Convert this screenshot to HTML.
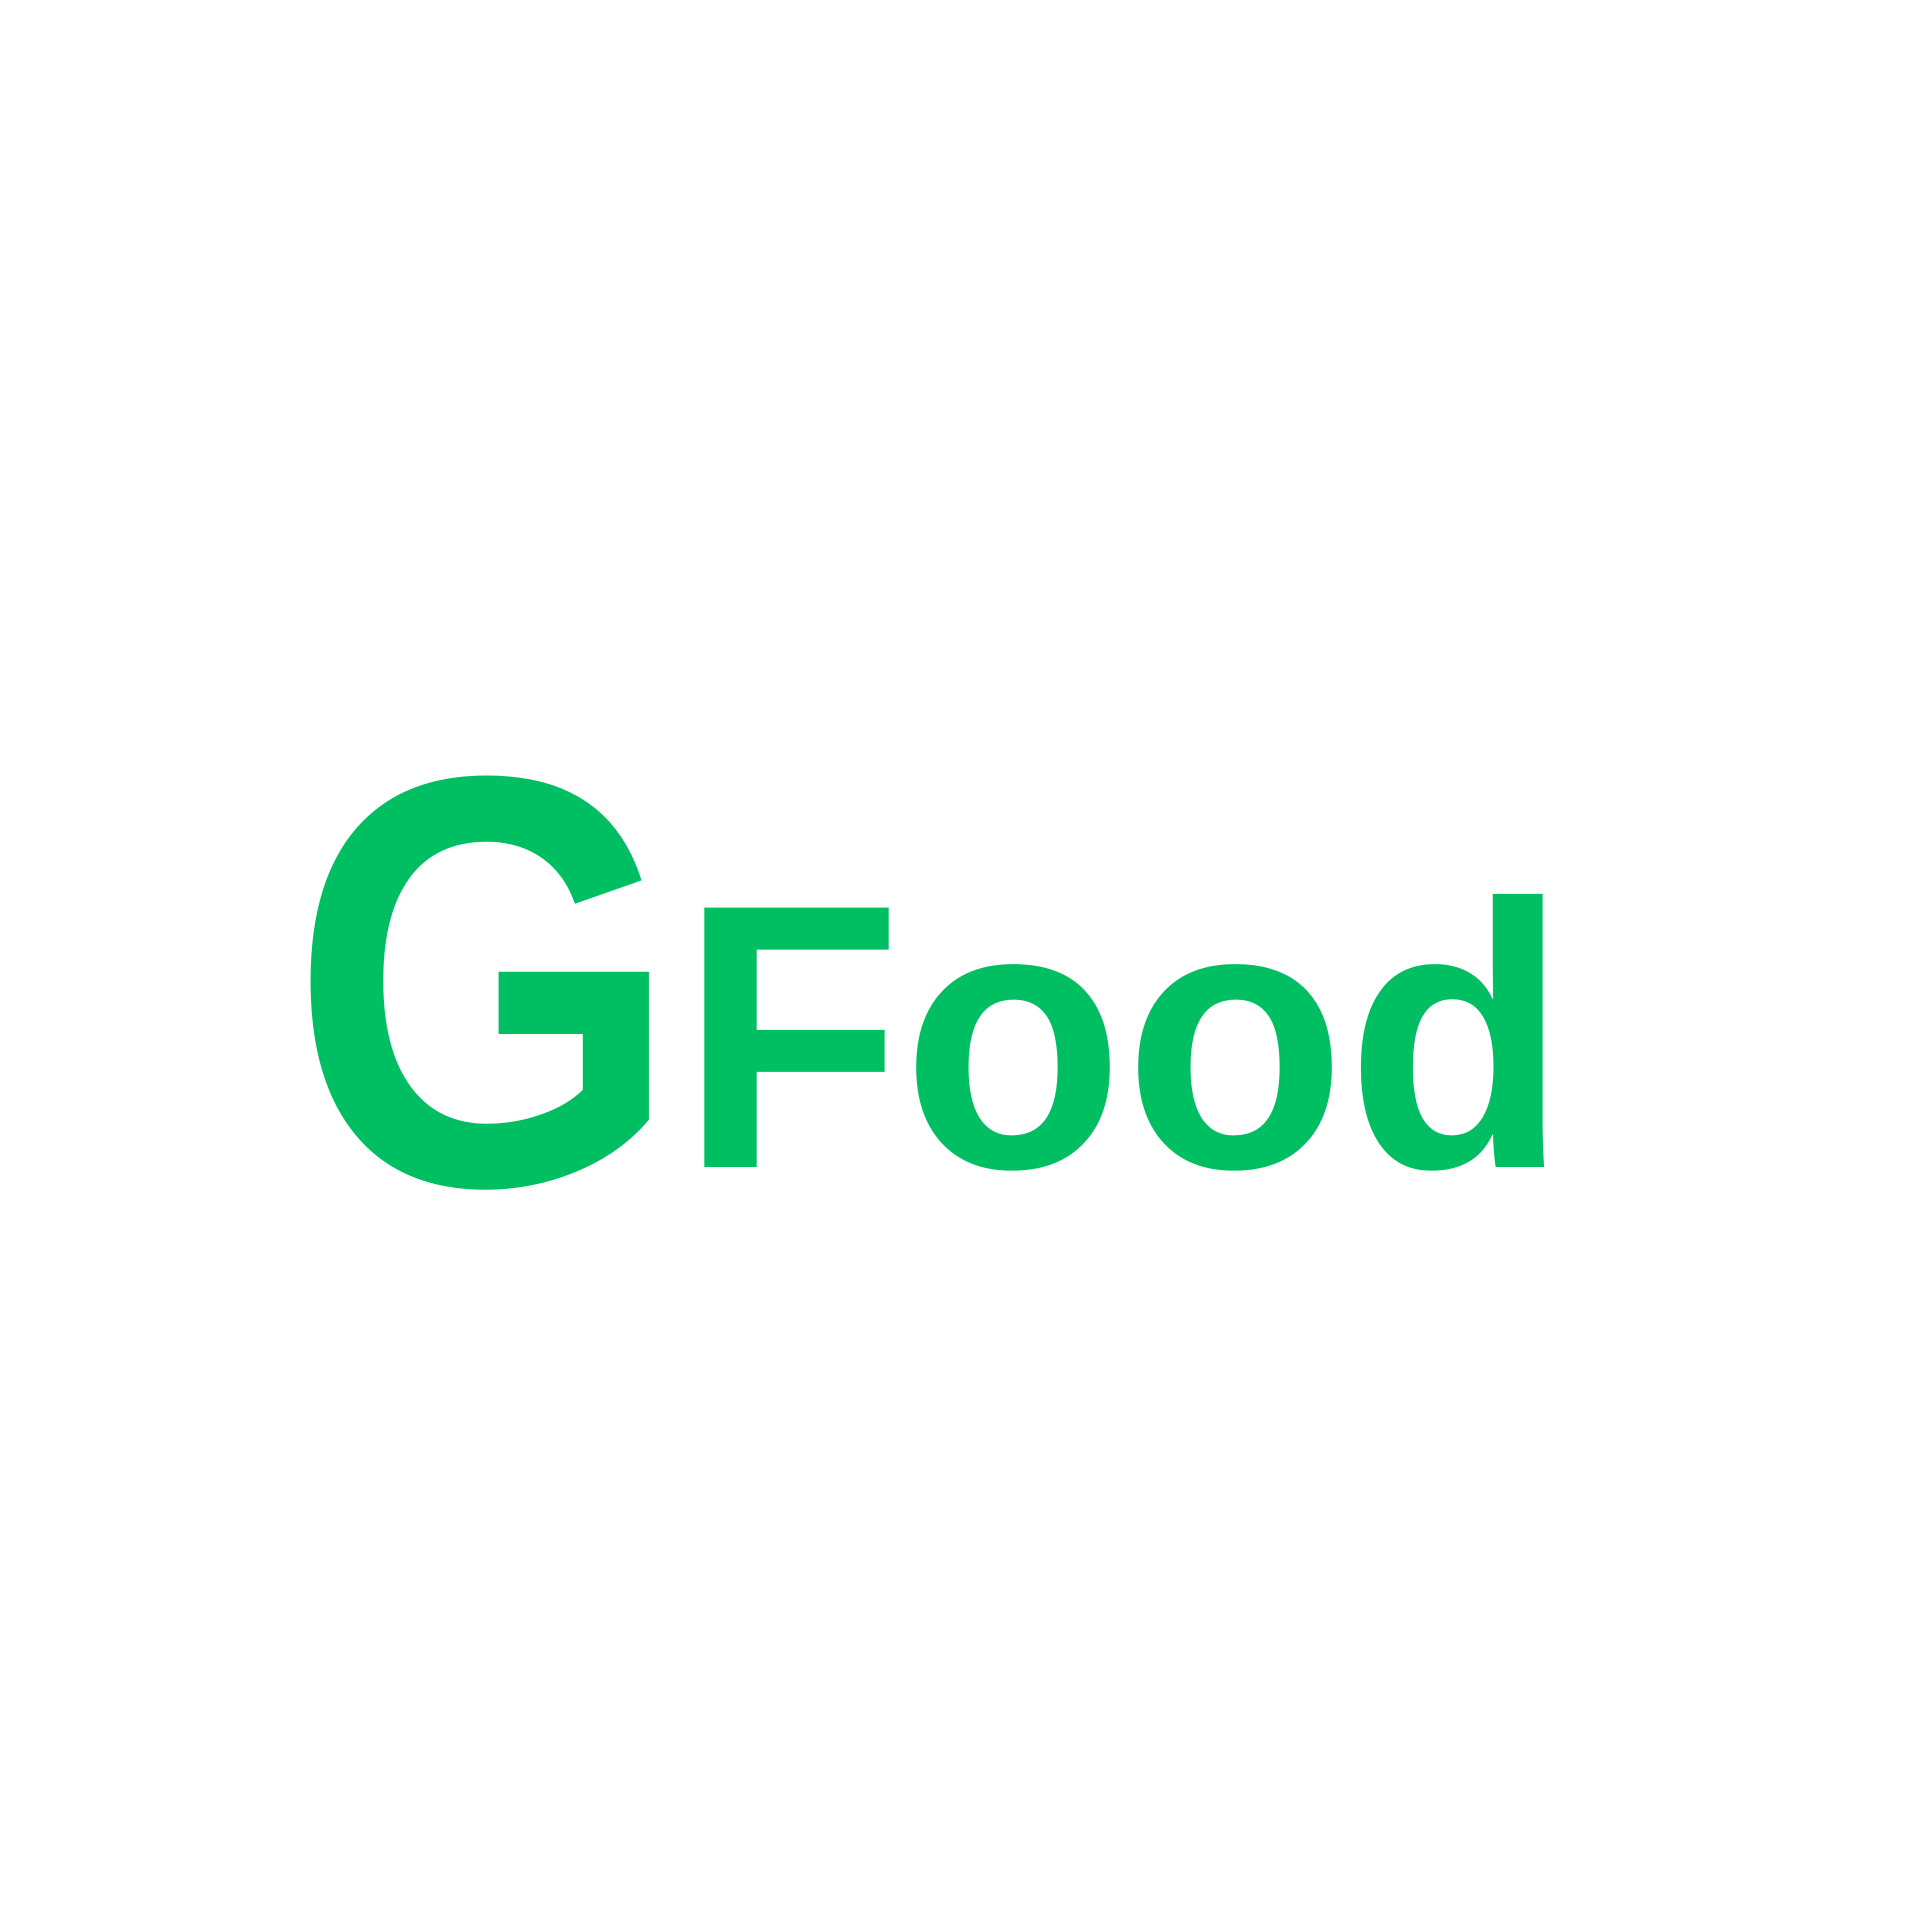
<!DOCTYPE html>
<html><head><meta charset="utf-8"><style>html,body{margin:0;padding:0;background:#fff;}svg{display:block}</style></head>
<body>
<svg width="1920" height="1920" viewBox="0 0 1920 1920" xmlns="http://www.w3.org/2000/svg">
<rect width="1920" height="1920" fill="#ffffff"/>
<text x="290" y="1184" font-family="Liberation Sans, sans-serif" font-weight="bold" font-size="585" fill="#00BF63" textLength="390" lengthAdjust="spacingAndGlyphs">G</text>
<text x="680" y="1167" font-family="Liberation Sans, sans-serif" font-weight="bold" font-size="377" fill="#00BF63" textLength="888" lengthAdjust="spacingAndGlyphs">Food</text>
</svg>
</body></html>
